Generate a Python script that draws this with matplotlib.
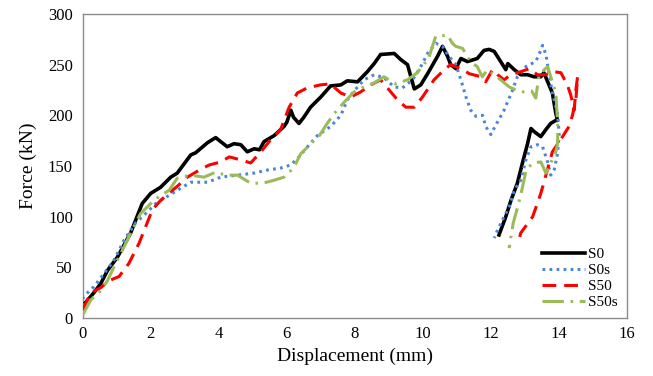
import matplotlib
matplotlib.use("Agg")
import matplotlib.pyplot as plt

plt.rcParams["font.family"] = ["Liberation Serif", "DejaVu Serif"]

# S0 (solid black)
s0_x = [0, 0.33, 0.53, 0.73, 1.02, 1.41, 1.75, 2.0, 2.29, 2.59, 2.78, 3.18, 3.32, 3.67, 3.91,
        4.06, 4.25, 4.45, 4.65, 4.84, 5.04, 5.2, 5.33, 5.63, 5.92, 6.0, 6.12, 6.2, 6.36, 6.5,
        6.7, 7.0, 7.29, 7.59, 7.78, 8.08, 8.37, 8.57, 8.76, 9.16, 9.35, 9.55, 9.7, 9.75, 9.94,
        10.14, 10.43, 10.58, 10.73, 10.82, 10.97, 11.12, 11.31, 11.6, 11.8, 11.95, 12.1, 12.29,
        12.44, 12.5, 12.69, 12.88, 13.08, 13.27, 13.47, 13.56, 13.71, 13.81, 13.91, 13.96,
        13.91, 13.76, 13.62, 13.47, 13.27, 13.18, 13.08, 12.93, 12.78, 12.59, 12.44, 12.24]
s0_y = [12, 25, 34, 47, 60, 84, 113, 123, 129, 139, 143, 161, 163, 173, 178,
        174, 169, 172, 171, 164, 167, 166, 174, 180, 189, 193, 205, 198, 192, 198,
        208, 218, 229, 230, 234, 233, 243, 251, 260, 261, 255, 250, 232, 226, 230,
        241, 258, 268, 258, 250, 246, 256, 253, 256, 264, 265, 263, 253,
        245, 251, 245, 240, 240, 238, 238, 242, 230, 222, 202, 195,
        195, 192, 186, 179, 184, 187, 172, 153, 133, 116, 100, 82]

# S0s (blue dotted)
s0s_x = [0, 0.02, 0.33, 0.63, 0.92, 1.22, 1.56, 1.85, 2.15, 2.49, 2.88, 3.18, 3.67, 4.06, 4.55,
         5.04, 5.43, 5.82, 6.12, 6.36, 6.61, 6.9, 7.29, 7.59, 7.78, 7.98, 8.27, 8.57, 8.86,
         9.16, 9.4, 9.7, 9.94, 10.14, 10.38, 10.58, 10.73, 10.97, 11.12, 11.27, 11.41, 11.56,
         11.76, 11.85, 12.0, 12.14, 12.39, 12.64, 12.78, 13.03, 13.32, 13.47, 13.52, 13.62,
         13.71, 13.81, 13.96, 14.01, 13.96, 13.86, 13.76, 13.67, 13.52, 13.37, 13.18, 13.03,
         12.88, 12.69, 12.54, 12.39, 12.2, 12.1]
s0s_y = [12, 21, 31, 44, 57, 77, 94, 103, 113, 120, 128, 134, 134, 139, 141,
         143, 146, 148, 151, 159, 169, 180, 189, 200, 215, 224, 235, 240, 237,
         228, 227, 235, 248, 261, 271, 268, 260, 250, 235, 218, 205, 199,
         200, 189, 181, 190, 205, 225, 238, 248, 253, 264, 269, 260,
         241, 222, 202, 181, 162, 146, 141, 154, 169, 171, 169, 156,
         136, 126, 110, 100, 87, 79]

# S50 (red dashed)
s50_x = [0, 0.24, 0.53, 0.78, 1.07, 1.36, 1.66, 1.85, 2.05, 2.29, 2.53, 2.78, 3.08, 3.43, 3.72,
         4.06, 4.31, 4.65, 4.94, 5.24, 5.53, 5.82, 6.07, 6.31, 6.6, 6.99, 7.28, 7.59, 7.88,
         8.17, 8.47, 8.76, 8.96, 9.26, 9.5, 9.75, 9.99, 10.33, 10.63, 10.82, 11.12, 11.37,
         11.71, 11.85, 12.05, 12.2, 12.39, 12.58, 12.88, 13.13, 13.37, 13.62, 13.86, 14.06,
         14.25, 14.35, 14.45, 14.5, 14.55, 14.5, 14.4, 14.3, 14.11, 13.81, 13.47, 13.23,
         12.88, 12.85]
s50_y = [8, 25, 30, 37, 41, 54, 74, 90, 107, 116, 123, 130, 139, 146, 151,
         154, 159, 156, 153, 164, 176, 186, 208, 222, 227, 230, 231, 222, 218,
         223, 230, 235, 227, 215, 208, 208, 218, 235, 245, 250, 246, 241,
         238, 233, 245, 240, 235, 240, 243, 246, 240, 240, 243, 242,
         230, 220, 205, 225, 238, 215, 200, 189, 179, 164, 123, 100,
         84, 80]

# S50s (green long dash-dot)
s50s_x = [0, 0.24, 0.53, 0.73, 0.97, 1.17, 1.41, 1.7, 2.0, 2.25, 2.54, 2.78, 3.18, 3.57, 3.91,
          4.2, 4.55, 4.94, 5.29, 5.63, 5.92, 6.2, 6.41, 6.71, 6.96, 7.15, 7.4, 7.69, 7.98,
          8.27, 8.57, 8.86, 9.2, 9.55, 9.84, 10.04, 10.14, 10.38, 10.73, 10.87, 10.97, 11.17,
          11.4, 11.6, 11.75, 11.9, 12.29, 12.54, 12.74, 12.98, 13.2, 13.32, 13.42, 13.67,
          13.91, 13.96, 13.97, 13.96, 13.91, 13.72, 13.62, 13.47, 13.23, 13.04, 12.89, 12.76,
          12.66, 12.59, 12.54]
s50s_y = [3, 18, 27, 37, 54, 67, 84, 103, 113, 120, 126, 138, 141, 139, 144,
          141, 141, 133, 133, 136, 139, 148, 162, 172, 180, 190, 202, 213, 223,
          228, 232, 238, 231, 235, 242, 251, 253, 278, 279, 271, 268, 266,
          253, 248, 238, 245, 235, 228, 225, 223, 224, 217, 240, 248,
          222, 195, 188, 172, 164, 150, 143, 154, 153, 146, 123, 106,
          94, 80, 69]

x_ticks = [0, 2, 4, 6, 8, 10, 12, 14, 16]
y_ticks = [0, 50, 100, 150, 200, 250, 300]

fig = plt.figure(figsize=(6.53, 3.76), dpi=100)
ax = fig.add_axes([0.1266, 0.154, 0.8334, 0.809])

lw = 2.2
ax.plot(s0_x, s0_y, color="black", lw=2.6, label="S0", zorder=3)
ax.plot(s0s_x, s0s_y, color="#4a86d6", lw=lw, label="S0s",
        dashes=(0.9, 1.4), dash_capstyle="butt", zorder=4)
ax.plot(s50_x, s50_y, color="#ff0000", lw=lw, label="S50",
        dashes=(4.5, 2.6), zorder=5)
ax.plot(s50s_x, s50s_y, color="#9bbb59", lw=lw, label="S50s",
        dashes=(7, 2.2, 0.8, 2.2), zorder=6)

ax.set_xlim(0, 16)
ax.set_ylim(0, 300)
ax.set_xticks(x_ticks)
ax.set_yticks(y_ticks)
ax.tick_params(length=0, labelsize=12, pad=7)
ax.tick_params(axis="x", pad=6)
for sp in ax.spines.values():
    sp.set_color("#8c8c8c")
    sp.set_linewidth(1.0)

ax.set_xlabel("Displacement (mm)", fontsize=14, labelpad=4)
ax.set_ylabel("Force (kN)", fontsize=14, labelpad=8)

ax.legend(loc="lower right", bbox_to_anchor=(1.005, -0.01), frameon=False, fontsize=11,
          handlelength=2.8, handletextpad=0.2, labelspacing=0.15, borderpad=0.3)

fig.savefig("out.png", dpi=100)
